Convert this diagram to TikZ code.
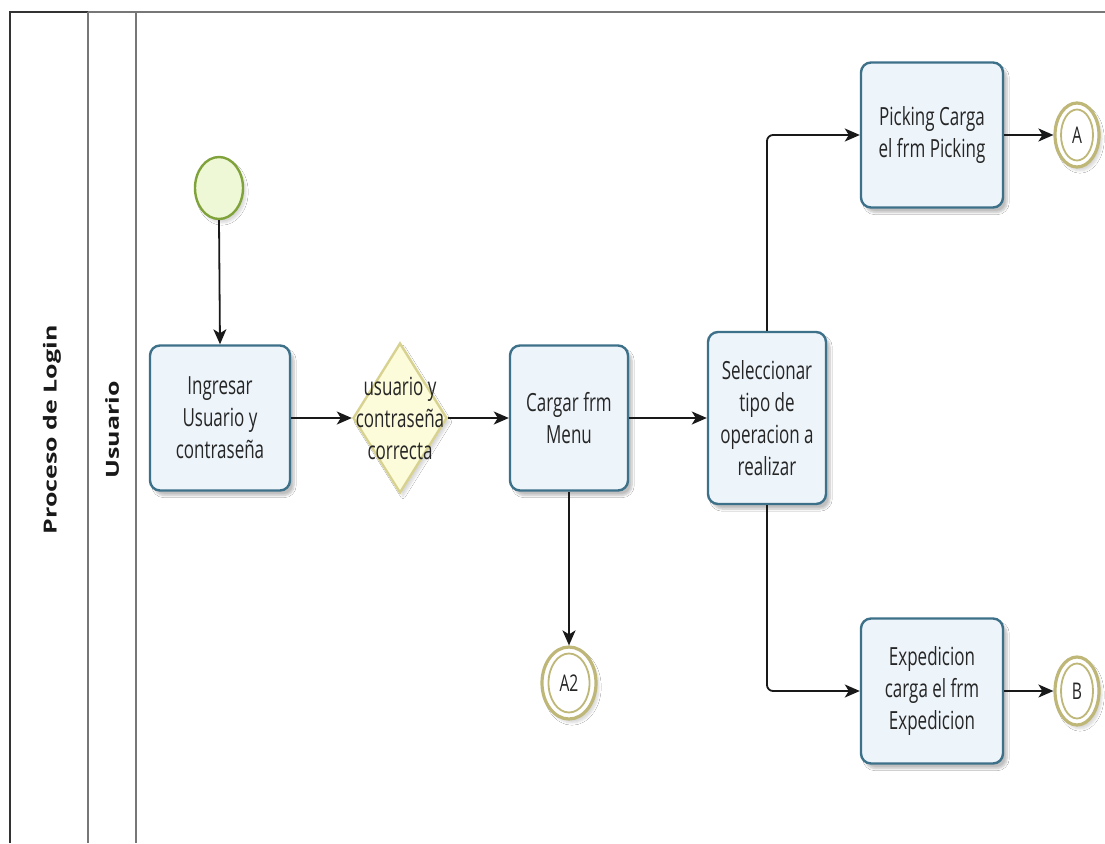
\documentclass[tikz,border=0pt]{standalone}
\usepackage{fontspec}
\setmainfont{Open Sans}[FakeStretch=0.68]
\newfontfamily\headfont{Open Sans}
\usetikzlibrary{shapes.geometric,arrows.meta,shadows.blur}

\definecolor{taskline}{HTML}{3D7089}
\definecolor{taskfill}{HTML}{EDF4FA}
\definecolor{gwline}{HTML}{D8D290}
\definecolor{gwfill}{HTML}{FCFBDA}
\definecolor{startline}{HTML}{7FA33A}
\definecolor{startfill}{HTML}{EFF8D6}
\definecolor{linkline}{HTML}{BEB778}
\definecolor{poolline}{HTML}{777777}

\begin{document}
\begin{tikzpicture}[x=1pt,y=-1pt,
  task/.style={draw=taskline, line width=2.4pt, fill=taskfill, rounded corners=10pt,
    align=center, font=\fontsize{25}{32}\selectfont, text=black!85, inner sep=0pt,
    blur shadow={shadow xshift=4pt, shadow yshift=-5pt, shadow opacity=25, shadow blur steps=6}},
  gateway/.style={diamond, draw=gwline, line width=2.4pt, fill=gwfill, inner sep=0pt,
    blur shadow={shadow xshift=3pt, shadow yshift=-4pt, shadow opacity=15, shadow blur steps=6}},
  gwtext/.style={align=center, font=\fontsize{25}{32}\selectfont, text=black!85, inner sep=0pt},
  startev/.style={ellipse, draw=startline, line width=2.4pt, fill=startfill, inner sep=0pt,
    blur shadow={shadow xshift=3pt, shadow yshift=-4pt, shadow opacity=15, shadow blur steps=6}},
  linkev/.style={ellipse, draw=linkline, line width=3.2pt, fill=white, inner sep=0pt,
    blur shadow={shadow xshift=3pt, shadow yshift=-4pt, shadow opacity=15, shadow blur steps=6}},
  linkin/.style={ellipse, draw=linkline, line width=1.8pt, inner sep=0pt,
    font=\fontsize{23}{26}\selectfont, text=black!85},
  flow/.style={line width=1.8pt, draw=black!90, rounded corners=6pt,
    -{Stealth[length=15pt,width=13pt,inset=4pt]}},
  lanetitle/.style={rotate=90, inner sep=0pt, text=black!90}
]
\useasboundingbox (0,0) rectangle (1105,843);
\fill[white] (0,0) rectangle (1105,843);

% pool and lane frame
\draw[poolline, line width=1.5pt] (88,12) -- (1105,12);
\draw[black!80, line width=2pt] (10,843) -- (10,12) -- (88,12);
\draw[poolline, line width=1.5pt] (88,12) -- (88,843);
\draw[poolline, line width=1.5pt] (136,12) -- (136,843);

\node[lanetitle] (pool) at (52,430)
  {\scalebox{1}[0.72]{\headfont\bfseries\fontsize{25}{28}\selectfont Proceso de Login}};
\node[lanetitle] (lane) at (112,430)
  {\scalebox{1}[0.72]{\headfont\bfseries\fontsize{25}{28}\selectfont Usuario}};

% events, tasks and gateway
\node[startev, minimum width=48pt, minimum height=62pt] (start) at (219,188) {};

\node[task, minimum width=140pt, minimum height=145pt] (login) at (220,418)
  {Ingresar\\Usuario y\\contraseña};
\node[gateway, minimum width=94pt, minimum height=150pt] (check) at (400,418) {};
\node[gwtext] (checktext) at (check.center) {usuario y\\contraseña\\correcta};
\node[task, minimum width=118pt, minimum height=145pt] (menu) at (569,418)
  {Cargar frm\\Menu};
\node[task, minimum width=118pt, minimum height=172pt] (select) at (767,418)
  {Seleccionar\\tipo de\\operacion a\\realizar};
\node[task, minimum width=142pt, minimum height=145pt] (picking) at (932,135)
  {Picking Carga\\el frm Picking};
\node[task, minimum width=142pt, minimum height=145pt] (exped) at (932,691)
  {Expedicion\\carga el frm\\Expedicion};

\node[linkev, minimum width=44pt, minimum height=64pt] (linkA) at (1077,135) {};
\node[linkin, minimum width=32pt, minimum height=51pt] (linkAin) at (linkA.center) {A};
\node[linkev, minimum width=44pt, minimum height=68pt] (linkB) at (1077,691) {};
\node[linkin, minimum width=32pt, minimum height=55pt] (linkBin) at (linkB.center) {B};
\node[linkev, minimum width=54pt, minimum height=72pt] (linkA2) at (569,683) {};
\node[linkin, minimum width=41pt, minimum height=59pt] (linkA2in) at (linkA2.center) {A2};

% sequence flows
\draw[flow] (start.south) -- (login.north);
\draw[flow] (login.east) -- (check.west);
\draw[flow] (check.east) -- (menu.west);
\draw[flow] (menu.east) -- (select.west);
\draw[flow] (menu.south) -- (linkA2.north);
\draw[flow] (select.north) |- (picking.west);
\draw[flow] (select.south) |- (exped.west);
\draw[flow] (picking.east) -- (linkA.west);
\draw[flow] (exped.east) -- (linkB.west);
\end{tikzpicture}
\end{document}
